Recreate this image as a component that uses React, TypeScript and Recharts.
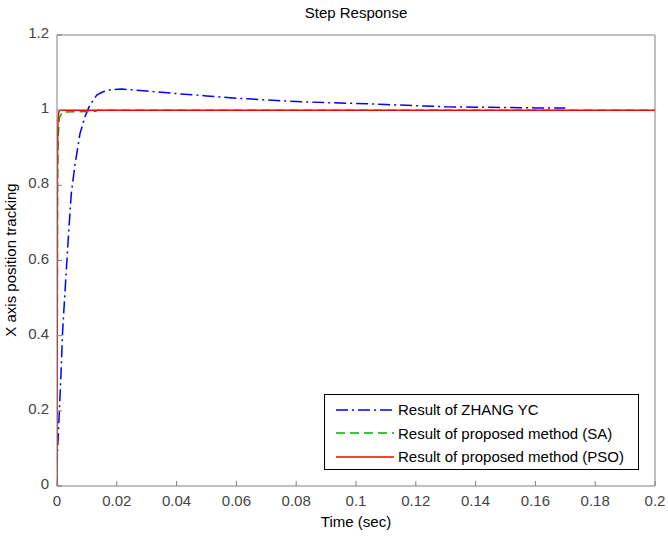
import { LineChart, Line, XAxis, YAxis, Legend } from 'recharts'

// time (sec) and response values
const zhangTime = [0, 0.0002, 0.0007, 0.0013, 0.0019, 0.0027, 0.0038, 0.0048, 0.006, 0.0077, 0.0094, 0.011, 0.0133, 0.0154, 0.0183, 0.0216, 0.025, 0.03, 0.04, 0.05, 0.06, 0.07, 0.08, 0.09, 0.1, 0.11, 0.12, 0.13, 0.14, 0.15, 0.16, 0.17]
const zhangValue = [0.05, 0.096, 0.184, 0.291, 0.415, 0.52, 0.663, 0.78, 0.854, 0.938, 0.983, 1.014, 1.04, 1.049, 1.055, 1.056, 1.054, 1.051, 1.044, 1.038, 1.032, 1.027, 1.023, 1.02, 1.018, 1.015, 1.012, 1.009, 1.008, 1.007, 1.006, 1.006]

const saTime = [0, 0.0001, 0.0002, 0.0004, 0.0008, 0.0018, 0.013, 0.0135, 0.2]
const saValue = [0, 0.4, 0.8, 0.93, 0.98, 0.995, 0.997, 1, 1]

const psoTime = [0, 0.0001, 0.00015, 0.0003, 0.0006, 0.001, 0.2]
const psoValue = [0, 0.45, 0.85, 0.97, 0.995, 1, 1]

const xTicks = [0, 0.02, 0.04, 0.06, 0.08, 0.1, 0.12, 0.14, 0.16, 0.18, 0.2]
const xTickLabels = ['0', '0.02', '0.04', '0.06', '0.08', '0.1', '0.12', '0.14', '0.16', '0.18', '0.2']
const yTicks = [0, 0.2, 0.4, 0.6, 0.8, 1, 1.2]
const yTickLabels = ['0', '0.2', '0.4', '0.6', '0.8', '1', '1.2']

const series = [
  { name: 'Result of ZHANG YC', time: zhangTime, value: zhangValue, color: '#0000ff', dash: '12 4 2 4' },
  { name: 'Result of proposed method (SA)', time: saTime, value: saValue, color: '#00b000', dash: '9 5' },
  { name: 'Result of proposed method (PSO)', time: psoTime, value: psoValue, color: '#ff0000', dash: undefined },
]

const toPoints = (time: number[], value: number[]) => time.map((t, i) => ({ t, v: value[i] }))

const FRAME = '#808080'
const FONT = 'Arial, "Liberation Sans", sans-serif'
const TICK_LEN = 5

const BottomTick = ({ x, y, index }: any) => (
  <g>
    <line x1={x} y1={y} x2={x} y2={y - TICK_LEN} stroke={FRAME} />
    <text x={x} y={y + 20} textAnchor="middle" fontSize={15} fill="#444" fontFamily={FONT}>
      {xTickLabels[index]}
    </text>
  </g>
)

const TopTick = ({ x, y }: any) => <line x1={x} y1={y} x2={x} y2={y + TICK_LEN} stroke={FRAME} />

const LeftTick = ({ x, y, index }: any) => (
  <g>
    <line x1={x} y1={y} x2={x + TICK_LEN} y2={y} stroke={FRAME} />
    <text x={x - 8} y={y + 3} textAnchor="end" fontSize={15} fill="#444" fontFamily={FONT}>
      {yTickLabels[index]}
    </text>
  </g>
)

const RightTick = ({ x, y }: any) => <line x1={x} y1={y} x2={x - TICK_LEN} y2={y} stroke={FRAME} />

const renderLegend = () => (
  <div
    style={{
      width: 315,
      height: 76,
      border: '1px solid #000',
      background: '#fff',
      fontFamily: FONT,
      fontSize: 15,
      color: '#000',
      paddingTop: 3,
      boxSizing: 'border-box',
    }}
  >
    {series.map((s) => (
      <div key={s.name} style={{ display: 'flex', alignItems: 'center', height: 23.5 }}>
        <svg width={73} height={10} style={{ flex: 'none' }}>
          <line x1={11} y1={5} x2={69} y2={5} stroke={s.color} strokeWidth={1.5} strokeDasharray={s.dash} />
        </svg>
        <span style={{ whiteSpace: 'nowrap' }}>{s.name}</span>
      </div>
    ))}
  </div>
)

export default function App() {
  return (
    <div style={{ position: 'absolute', left: 0, top: 0, width: 668, height: 539, background: '#fff', fontFamily: FONT }}>
      <LineChart width={668} height={539} margin={{ top: 34, right: 12, bottom: 0, left: 0 }}>
        <XAxis
          xAxisId="bottom"
          type="number"
          dataKey="t"
          domain={[0, 0.2]}
          ticks={xTicks}
          allowDataOverflow
          height={53}
          stroke={FRAME}
          tickLine={false}
          tickSize={0}
          tickMargin={0}
          tick={<BottomTick />}
          interval={0}
        />
        <XAxis
          xAxisId="top"
          orientation="top"
          type="number"
          dataKey="t"
          domain={[0, 0.2]}
          ticks={xTicks}
          height={1}
          stroke={FRAME}
          tickLine={false}
          tickSize={0}
          tickMargin={0}
          tick={<TopTick />}
          interval={0}
        />
        <YAxis
          yAxisId="left"
          type="number"
          dataKey="v"
          domain={[0, 1.2]}
          ticks={yTicks}
          width={57}
          stroke={FRAME}
          tickLine={false}
          tickSize={0}
          tickMargin={0}
          tick={<LeftTick />}
          interval={0}
        />
        <YAxis
          yAxisId="right"
          orientation="right"
          type="number"
          dataKey="v"
          domain={[0, 1.2]}
          ticks={yTicks}
          width={1}
          stroke={FRAME}
          tickLine={false}
          tickSize={0}
          tickMargin={0}
          tick={<RightTick />}
          interval={0}
        />
        {series.map((s) => (
          <Line
            key={s.name}
            xAxisId="bottom"
            yAxisId="left"
            name={s.name}
            data={toPoints(s.time, s.value)}
            dataKey="v"
            type="linear"
            stroke={s.color}
            strokeWidth={1.5}
            strokeDasharray={s.dash}
            dot={false}
            activeDot={false}
            isAnimationActive={false}
          />
        ))}
        <Legend
          layout="vertical"
          align="center"
          verticalAlign="middle"
          content={renderLegend}
          wrapperStyle={{ left: 324, top: 394, width: 315 }}
        />
      </LineChart>
      <div style={{ position: 'absolute', left: 57, width: 598, top: 4, textAlign: 'center', fontSize: 15, color: '#000' }}>
        Step Response
      </div>
      <div style={{ position: 'absolute', left: 57, width: 598, top: 513, textAlign: 'center', fontSize: 15, color: '#000' }}>
        Time (sec)
      </div>
      <div
        style={{
          position: 'absolute',
          left: 10,
          top: 260,
          fontSize: 15,
          color: '#000',
          whiteSpace: 'nowrap',
          transform: 'translate(-50%, -50%) rotate(-90deg)',
        }}
      >
        X axis position tracking
      </div>
    </div>
  )
}
